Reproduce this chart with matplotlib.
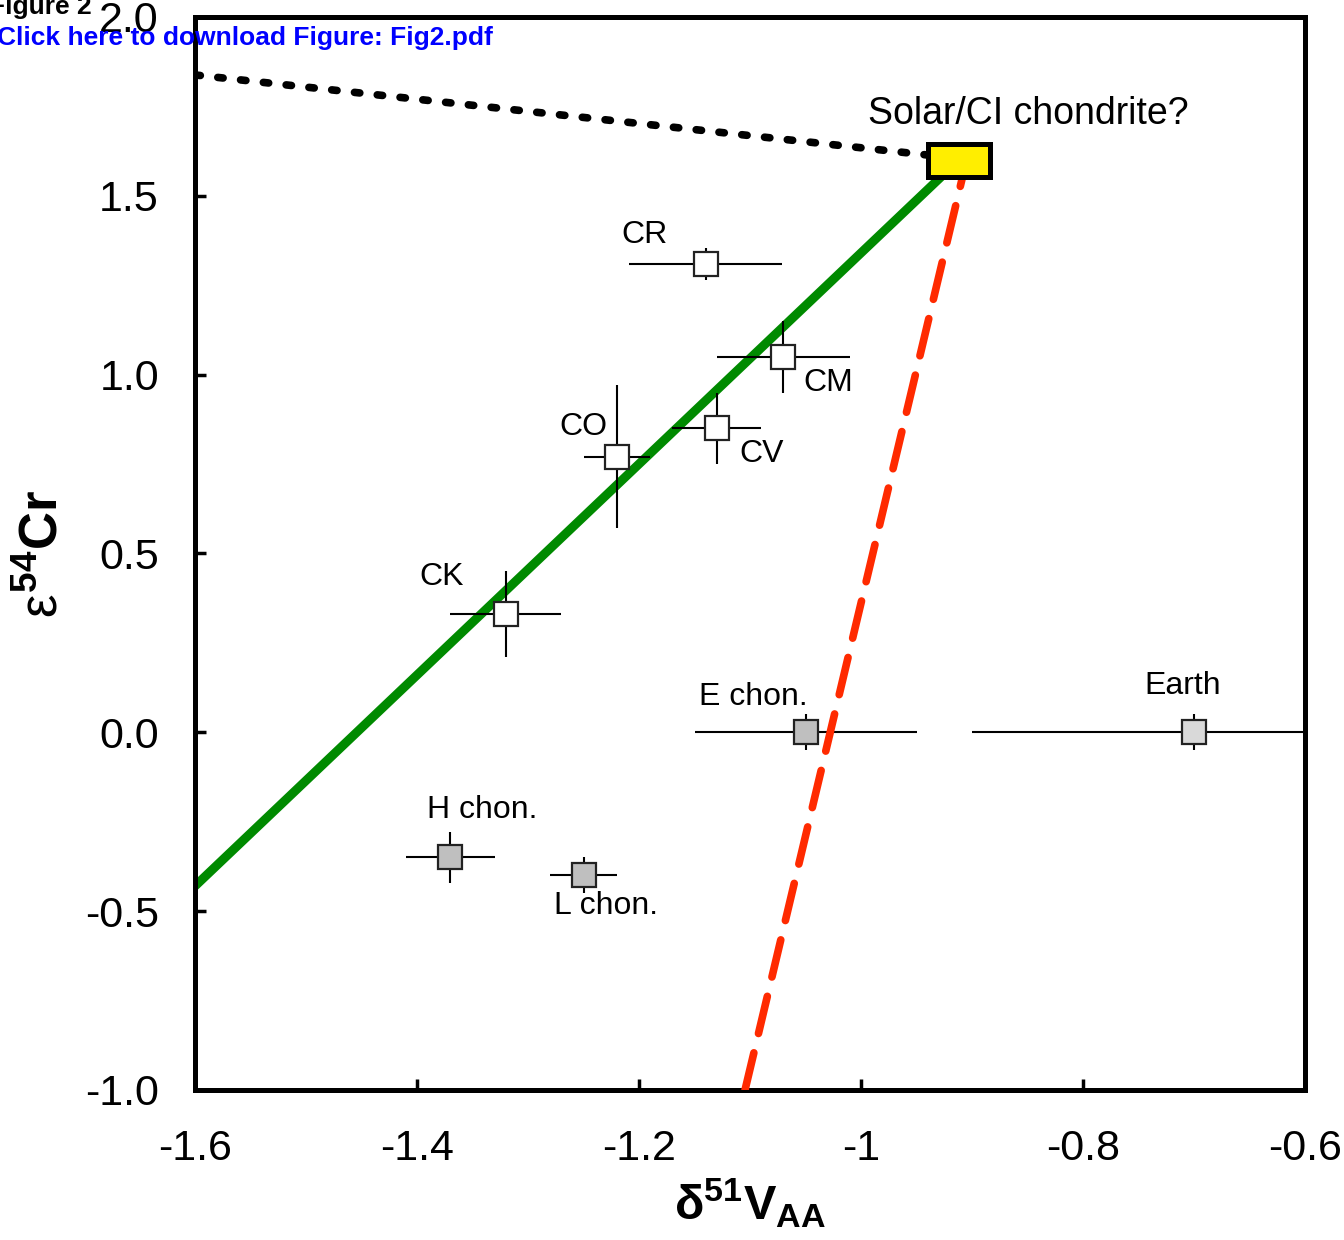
#Fig.2: epsilon54Cr vs delta51V for chondrite groups and Earth
import matplotlib
matplotlib.use('Agg')
import matplotlib.pyplot as plt
from matplotlib.patches import Rectangle

plt.rcParams['font.family']=['Liberation Sans','DejaVu Sans']
plt.rcParams['mathtext.fontset']='custom'
plt.rcParams['mathtext.rm']='Liberation Sans'
plt.rcParams['mathtext.it']='Liberation Sans'
plt.rcParams['mathtext.bf']='Liberation Sans:bold'

#data
names=['CR','CM','CV','CO','CK','E chon.','Earth','H chon.','L chon.']
d51V=[-1.14,-1.07,-1.13,-1.22,-1.32,-1.05,-0.70,-1.37,-1.25]
d51V_err=[0.069,0.06,0.04,0.03,0.05,0.10,0.20,0.04,0.03]
e54Cr=[1.31,1.05,0.85,0.77,0.33,0.0,0.0,-0.35,-0.40]
e54Cr_err=[0.045,0.10,0.10,0.20,0.12,0.05,0.05,0.07,0.05]
fills=['white','white','white','white','white','#bfbfbf','#d9d9d9','#bfbfbf','#bfbfbf']

#solar / CI estimate (box) and mixing lines
solar_x,solar_y=-0.912,1.60
solar_w,solar_h=0.056,0.092
green_x=[-1.6,-0.912]
green_y=[-0.43,1.60]
red_x=[-1.1045,-0.906]
red_y=[-1.0,1.586]
dot_x=[-1.6,-0.94]
dot_y=[1.838,1.614]

#label placement (x,y,ha)
lab_pos={'CR':(-1.195,1.39,'center'),'CM':(-1.052,0.977,'left'),'CV':(-1.110,0.778,'left'),
         'CO':(-1.250,0.854,'center'),'CK':(-1.378,0.434,'center'),'E chon.':(-1.097,0.099,'center'),
         'Earth':(-0.710,0.130,'center'),'H chon.':(-1.341,-0.217,'center'),'L chon.':(-1.230,-0.485,'center')}

fig=plt.figure(figsize=(13.44,12.40),dpi=100)
ax=fig.add_axes([0.1451,0.1210,0.8259,0.8653])

ax.plot(green_x,green_y,color='#008a00',lw=6.5,solid_capstyle='butt',zorder=2)
for i in range(len(names)):
    ax.errorbar(d51V[i],e54Cr[i],xerr=d51V_err[i],yerr=e54Cr_err[i],fmt='s',ms=17.5,
                mfc=fills[i],mec='#222222',mew=1.6,ecolor='black',elinewidth=1.5,capsize=0,zorder=3)
    x,y,ha=lab_pos[names[i]]
    ax.text(x,y,names[i],fontsize=23,ha=ha,va='center',zorder=5)
ax.plot(red_x,red_y,color='#ff2a00',lw=5.5,ls=(0,(5,2.6)),dash_capstyle='round',zorder=4)
ax.plot(dot_x,dot_y,color='black',lw=5.5,ls=(0,(0.7,2.3)),dash_capstyle='round',zorder=4)
ax.add_patch(Rectangle((solar_x-solar_w/2,solar_y-solar_h/2),solar_w,solar_h,
                       facecolor='#ffee00',edgecolor='black',lw=3.6,zorder=6))
ax.text(-0.849,1.729,'Solar/CI chondrite?',fontsize=27,ha='center',va='center',zorder=5)

ax.set_xlim(-1.6,-0.6)
ax.set_ylim(-1.0,2.0)
ax.set_xticks([-1.6,-1.4,-1.2,-1.0,-0.8,-0.6])
ax.set_xticklabels(['-1.6','-1.4','-1.2','-1','-0.8','-0.6'])
ax.set_yticks([-1.0,-0.5,0.0,0.5,1.0,1.5,2.0])
ax.set_yticklabels(['-1.0','-0.5','0.0','0.5','1.0','1.5','2.0'])
ax.tick_params(direction='in',length=8,width=2.5,labelsize=31)
ax.tick_params(axis='x',pad=28)
ax.tick_params(axis='y',pad=26)
for s in ax.spines.values():
    s.set_linewidth(3.6)
ax.set_xlabel(r'$\mathbf{\delta^{51}V_{AA}}$',fontsize=35,labelpad=6)
ax.set_ylabel(r'$\varepsilon^{\mathbf{54}}\mathbf{Cr}$',fontsize=38,labelpad=12)

fig.text(-0.008,0.9885,'Figure 2',fontsize=19,fontweight='bold',color='black')
fig.text(-0.002,0.9635,'Click here to download Figure: Fig2.pdf',fontsize=19,fontweight='bold',color='#0000ff')

fig.savefig('out.png',dpi=100)
